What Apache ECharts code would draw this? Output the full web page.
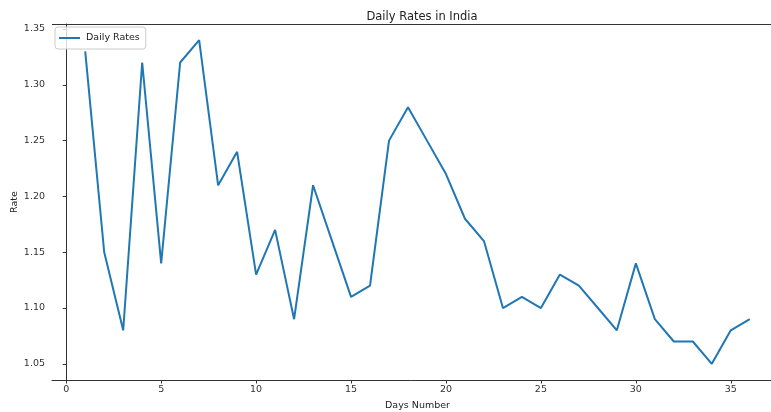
<!DOCTYPE html>
<html>
<head>
<meta charset="utf-8">
<script src="https://cdn.jsdelivr.net/npm/echarts@6/dist/echarts.min.js"></script>
<style>html,body{margin:0;padding:0;background:#fff;}#c{width:771px;height:412px;}</style>
</head>
<body>
<div id="c"></div>
<script>
const days = [1,2,3,4,5,6,7,8,9,10,11,12,13,14,15,16,17,18,19,20,21,22,23,24,25,26,27,28,29,30,31,32,33,34,35,36];
const rates = [1.33,1.15,1.08,1.32,1.14,1.32,1.34,1.21,1.24,1.13,1.17,1.09,1.21,1.16,1.11,1.12,1.25,1.28,1.25,1.22,1.18,1.16,1.10,1.11,1.10,1.13,1.12,1.10,1.08,1.14,1.09,1.07,1.07,1.05,1.08,1.09];
const xTicks = [0,5,10,15,20,25,30,35];
const yTicks = [1.05,1.10,1.15,1.20,1.25,1.30,1.35];

const chart = echarts.init(document.getElementById('c'), null, {renderer:'canvas'});
const font = 'DejaVu Sans';
chart.setOption({
  animation: false,
  backgroundColor: '#fff',
  title: {
    text: 'Daily Rates in India',
    left: 417, top: 6, textAlign: 'center',
    textStyle: {fontFamily: font, fontSize: 11.5, fontWeight: 'normal', color: '#222'}
  },
  legend: {
    left: 55, top: 27,
    data: ['Daily Rates'],
    icon: 'rect', itemWidth: 21, itemHeight: 2,
    padding: [6, 6, 6, 4],
    itemGap: 6,
    backgroundColor: 'rgba(255,255,255,0.8)',
    borderColor: '#ccc', borderWidth: 1, borderRadius: 3,
    textStyle: {fontFamily: font, fontSize: 9.5, color: '#222', padding: [0,0,0,1]}
  },
  grid: {left: 52, top: 24, width: 731, height: 356, containLabel: false, outerBoundsMode: 'none'},
  xAxis: {
    type: 'value', min: -0.75, max: 37.75,
    name: 'Days Number', nameLocation: 'middle', nameGap: 21, nameMoveOverlap: false,
    nameTextStyle: {fontFamily: font, fontSize: 9.5, color: '#222'},
    axisLine: {show: true, lineStyle: {color: '#333', width: 1}},
    axisTick: {show: true, length: 3.5, customValues: xTicks, lineStyle: {color: '#333'}},
    axisLabel: {customValues: xTicks, margin: 5, fontFamily: font, fontSize: 9.5, color: '#333'},
    splitLine: {show: false}
  },
  yAxis: {
    type: 'value', min: 1.0355, max: 1.3545,
    name: 'Rate', nameLocation: 'middle', nameGap: 32, nameMoveOverlap: false,
    nameTextStyle: {fontFamily: font, fontSize: 9.5, color: '#222'},
    axisLine: {show: true, lineStyle: {color: '#333', width: 1}},
    axisTick: {show: true, length: 3.5, customValues: yTicks, lineStyle: {color: '#333'}},
    axisLabel: {customValues: yTicks, margin: 7, fontFamily: font, fontSize: 9.5, color: '#333',
      formatter: v => v.toFixed(2)},
    splitLine: {show: false}
  },
  graphic: [{
    type: 'line', shape: {x1: 52, y1: 24.5, x2: 783, y2: 24.5},
    style: {stroke: '#333', lineWidth: 1}, silent: true
  }],
  series: [{
    name: 'Daily Rates', type: 'line',
    data: days.map((d, i) => [d, rates[i]]),
    showSymbol: false, symbol: 'none',
    lineStyle: {color: '#1f77b4', width: 2},
    itemStyle: {color: '#1f77b4'}
  }]
});
</script>
</body>
</html>
